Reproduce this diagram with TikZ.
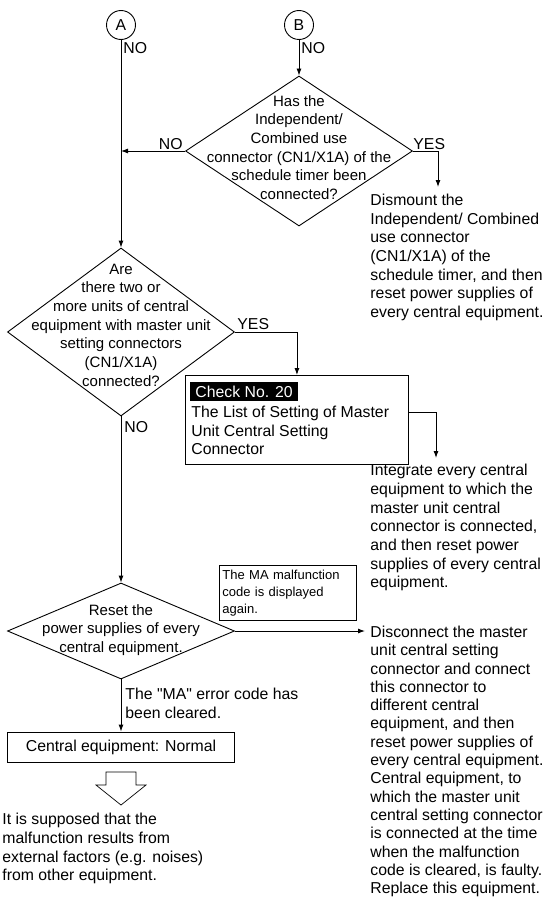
\documentclass[tikz,border=0pt]{standalone}
\usepackage{fontspec}
\setmainfont{Liberation Sans}
\newfontfamily\rawfont{Liberation Sans}[Ligatures=TeXOff]
\usetikzlibrary{arrows.meta,shapes.geometric}

\begin{document}
\begin{tikzpicture}[x=1pt, y=-1pt, line width=0.9pt,
	every node/.style={font=\fontsize{15.8}{18.66}\selectfont, inner sep=0pt},
	>={Latex[length=7pt,width=5pt]},
	conn/.style={circle, draw, minimum size=29pt},
	decision/.style={diamond, draw, minimum width=227pt},
	qtext/.style={align=center, font=\fontsize{15}{18.66}\selectfont},
	note/.style={anchor=north west, align=left},
	lbl/.style={anchor=west}]
	\useasboundingbox (0,0) rectangle (545,899);

	\node[conn] (A) at (121,25) {A};
	\node[conn] (B) at (299,25) {B};
	\node[lbl] (noA) at (123,48) {NO};
	\node[lbl] (noB) at (301,48) {NO};

	\node[decision, minimum height=150pt] (q1) at (299,151) {};
	\node[qtext] (q1txt) at (299,147.5) {Has the\\Independent/\\Combined use\\connector (CN1/X1A) of the\\schedule timer been\\connected?};
	\node[anchor=east] (no1) at (183,144) {NO};
	\node[lbl] (yes1) at (413,144) {YES};
	\coordinate (dis1tip) at (438,187);
	\node[note] (dismount) at (370,193.5) {Dismount the\\Independent/ Combined\\use connector\\(CN1/X1A) of the\\schedule timer, and then\\reset power supplies of\\every central equipment.};

	\node[decision, minimum height=168pt] (q2) at (121,332) {};
	\node[qtext] (q2txt) at (121,325) {Are\\there two or\\more units of central\\equipment with master unit\\setting connectors\\(CN1/X1A)\\connected?};
	\node[lbl] (yes2) at (237,324) {YES};
	\node[lbl] (no2) at (124,427) {NO};

	\node[draw, anchor=north west, minimum width=223pt, minimum height=89pt] (chk) at (185,375) {};
	\node[anchor=north west, fill=black, text=white, inner xsep=5pt, minimum height=19pt] (chkno) at (190,381.5) {Check No. 20};
	\node[note] (chktxt) at (191,405.5) {The List of Setting of Master\\Unit Central Setting\\Connector};
	\coordinate (int1tip) at (436,458);
	\node[note] (integrate) at (370,464) {Integrate every central\\equipment to which the\\master unit central\\connector is connected,\\and then reset power\\supplies of every central\\equipment.};

	\node[decision, minimum height=96pt] (q3) at (121,631) {};
	\node[qtext] (q3txt) at (121,630) {Reset the\\power supplies of every\\central equipment.};
	\node[draw, anchor=north west, minimum width=137pt, minimum height=55pt, text width=131pt, inner sep=3pt, align=left, font=\fontsize{13}{16.8}\selectfont] (again) at (219,565) {The MA malfunction\\code is displayed\\again.};
	\coordinate (dis3tip) at (365,631);
	\node[note, font=\fontsize{15.8}{18.3}\selectfont] (disconnect) at (370,625.5) {Disconnect the master\\unit central setting\\connector and connect\\this connector to\\different central\\equipment, and then\\reset power supplies of\\every central equipment.\\Central equipment, to\\which the master unit\\central setting connector\\is connected at the time\\when the malfunction\\code is cleared, is faulty.\\Replace this equipment.};

	\node[note] (cleared) at (125,688) {The {\rawfont"MA"} error code has\\been cleared.};
	\node[draw, minimum width=227pt, minimum height=30pt] (normal) at (121,747) {Central equipment: Normal};
	\draw[line width=0.7pt] (106,772) -- (136,772) -- (136,785) -- (146,785) -- (121,805) -- (96,785) -- (106,785) -- cycle;
	\node[note] (cause) at (2,813) {It is supposed that the\\malfunction results from\\external factors (e.g. noises)\\from other equipment.};

	\draw[->] (A) -- (q2.north);
	\draw[->] (B) -- (q1.north);
	\draw[->] (q1.west) -- (q1.west -| A);
	\draw[->] (q1.east) -| (dis1tip);
	\draw[->] (q2.east) -| (chk.north);
	\draw[->] ([yshift=7.8pt]chk.east) -| (int1tip);
	\draw[->] (q2.south) -- (q3.north);
	\draw[->] (q3.east) -- (dis3tip);
	\draw[->] (q3.south) -- (normal.north);
\end{tikzpicture}
\end{document}
